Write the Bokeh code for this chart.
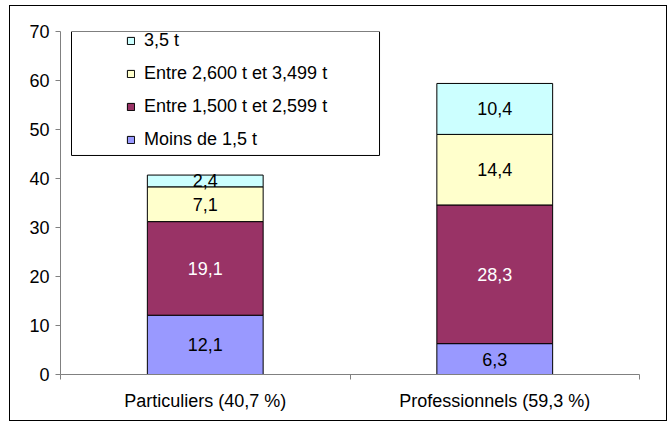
from bokeh.plotting import figure
from bokeh.models import (ColumnDataSource, FixedTicker, Legend, LegendItem,
                          LabelSet, BoxAnnotation, Range1d)
from bokeh.core.properties import value
from bokeh.embed import file_html
from bokeh.resources import INLINE

categories = ["Particuliers (40,7 %)", "Professionnels (59,3 %)"]
series = ["Moins de 1,5 t", "Entre 1,500 t et 2,599 t", "Entre 2,600 t et 3,499 t", "3,5 t"]
moins_1_5 = [12.1, 6.3]
entre_1500_2599 = [19.1, 28.3]
entre_2600_3499 = [7.1, 14.4]
plus_3_5 = [2.4, 10.4]
y_ticks = [0, 10, 20, 30, 40, 50, 60, 70]

colors = ["#9999FF", "#993366", "#FFFFCC", "#CCFFFF"]
label_colors = ["black", "white", "black", "black"]
values = [moins_1_5, entre_1500_2599, entre_2600_3499, plus_3_5]
keys = ["s0", "s1", "s2", "s3"]

xpos = [i + 0.5 for i in range(len(categories))]
data = {"x": xpos}
for k, v in zip(keys, values):
    data[k] = v
source = ColumnDataSource(data)

FONT = "Liberation Sans"
FS = "18px"

p = figure(width=656, height=414, frame_width=579, frame_height=343,
           min_border_left=50, min_border_right=27, min_border_top=25, min_border_bottom=46,
           x_range=Range1d(0, len(categories)), y_range=Range1d(0, 70),
           output_backend="svg", toolbar_location=None,
           styles={"border": "1px solid #000000", "margin-left": "9px", "margin-top": "5px"})
p.outline_line_color = None
p.grid.visible = False
p.background_fill_color = "white"

renderers = p.vbar_stack(keys, x="x", width=0.4, source=source, color=colors,
                         line_color="black", line_width=1)

# segment labels
lx, ly, lt, lc = [], [], [], []
for i in range(len(categories)):
    base = 0.0
    for s, v in enumerate(values):
        lx.append(xpos[i])
        ly.append(base + v[i] / 2)
        lt.append(f"{v[i]:.1f}".replace(".", ","))
        lc.append(label_colors[s])
        base += v[i]
lsrc = ColumnDataSource(dict(x=lx, y=ly, t=lt, c=lc))
p.add_layout(LabelSet(x="x", y="y", text="t", source=lsrc, text_color="c",
                      text_align="center", text_baseline="middle",
                      text_font=value(FONT), text_font_size=value(FS)))

# axes
ya = p.yaxis[0]
ya.ticker = FixedTicker(ticks=y_ticks, minor_ticks=[])
ya.axis_line_color = "#808080"
ya.major_tick_line_color = "#808080"
ya.major_tick_out = 5
ya.major_tick_in = 0
ya.major_label_standoff = 6
ya.major_label_text_font = FONT
ya.major_label_text_font_size = FS
ya.major_label_text_color = "black"

xa = p.xaxis[0]
xa.ticker = FixedTicker(ticks=xpos, minor_ticks=list(range(len(categories) + 1)))
xa.major_label_overrides = {x: c for x, c in zip(xpos, categories)}
xa.axis_line_color = "#808080"
xa.major_tick_line_color = None
xa.major_tick_out = 0
xa.minor_tick_line_color = "#808080"
xa.minor_tick_out = 5
xa.minor_tick_in = 0
xa.major_label_standoff = 11
xa.major_label_text_font = FONT
xa.major_label_text_font_size = FS
xa.major_label_text_color = "black"

# legend box
p.add_layout(BoxAnnotation(left=0.038, right=1.102, top=70.0, bottom=44.7,
                           fill_color="white", fill_alpha=1.0,
                           line_color="#000000", line_width=1, line_alpha=1.0))

items = [LegendItem(label=series[s], renderers=[renderers[s]]) for s in reversed(range(4))]
legend = Legend(items=items, location=(66, 224), orientation="vertical",
                border_line_color=None, background_fill_alpha=0, padding=0,
                spacing=12, label_height=20, glyph_height=9, glyph_width=9,
                label_standoff=9, label_text_font=FONT, label_text_font_size=FS,
                label_text_color="black")
p.add_layout(legend)

open("out.html", "w").write(file_html(p, INLINE))
